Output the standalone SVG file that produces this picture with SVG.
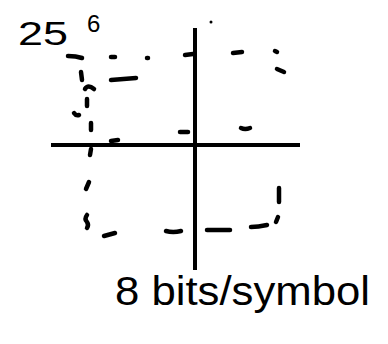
<svg xmlns="http://www.w3.org/2000/svg" width="388" height="344" viewBox="0 0 388 344">
<style>
.ax{stroke:#000;stroke-width:4;fill:none;stroke-linecap:butt}
.d{stroke:#000;stroke-width:4.5;fill:none;stroke-linecap:round;stroke-linejoin:round}
.t{font-family:"Liberation Sans",Arial,sans-serif;fill:#000}
</style>
<rect width="388" height="344" fill="#fff"/>
<g id="axes">
<line class="ax" x1="51" y1="145" x2="300" y2="145"/>
<line class="ax" x1="195" y1="28" x2="195" y2="270"/>
</g>
<g id="dashes">
<path class="d" d="M68 56 Q76 56 82 58"/>
<path class="d" d="M111 57 L115 57"/>
<path class="d" d="M147 58 L148 58"/>
<path class="d" d="M185 55 L193 54"/>
<path class="d" d="M233 53 L242 52"/>
<path class="d" d="M275 51 L277 52"/>
<path class="d" d="M277 69 L284 72"/>
<circle cx="211" cy="22" r="1.5" fill="#000"/>
<path class="d" d="M81 72 L82 80"/>
<path class="d" d="M85 89 Q88 84 94 89"/>
<path class="d" d="M111 80 L136 78"/>
<path class="d" d="M87 99 L87 106"/>
<path class="d" d="M74 113 Q76 116 79 115"/>
<path class="d" d="M91 123 L91 130"/>
<path class="d" d="M111 141 L118 140"/>
<path class="d" d="M180 132 L188 132"/>
<path class="d" d="M241 128 Q245 130 250 128"/>
<path class="d" d="M91 149 L90 155"/>
<path class="d" d="M89 182 L86 189"/>
<path class="d" d="M87 215 Q84 219 87 222 Q89 225 87 228"/>
<path class="d" d="M104 236 L115 233"/>
<path class="d" d="M166 231 Q173 233 181 231"/>
<path class="d" d="M207 230 L230 230"/>
<path class="d" d="M251 227 Q258 227 267 225"/>
<path class="d" d="M278 217 L276 222"/>
<path class="d" d="M279 188 L279 202"/>
</g>
<g id="labels">
<text class="t" x="18" y="45" font-size="34" textLength="50" lengthAdjust="spacingAndGlyphs">25</text>
<text class="t" x="87" y="32" font-size="24">6</text>
<text class="t" x="115" y="305" font-size="40" textLength="255" lengthAdjust="spacingAndGlyphs">8 bits/symbol</text>
</g>
</svg>
